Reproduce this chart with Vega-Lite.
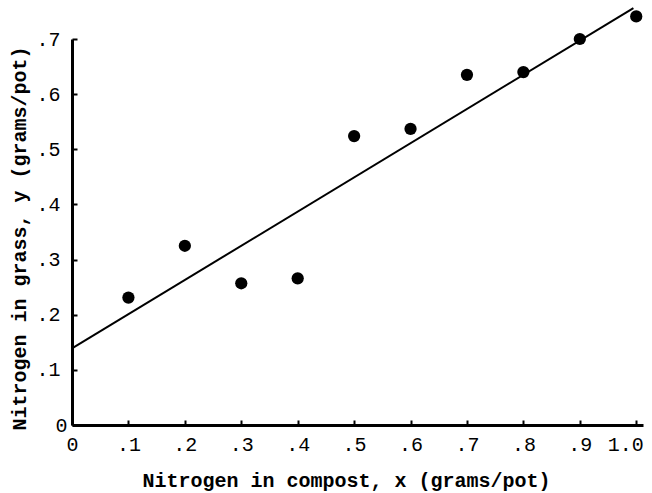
{
  "$schema": "https://vega.github.io/schema/vega-lite/v6.json",
  "width": 571,
  "height": 386,
  "autosize": {"type": "none"},
  "padding": {"left": 72, "top": 39, "right": 9, "bottom": 68},
  "background": "white",
  "config": {
    "view": {"stroke": null},
    "font": "Liberation Mono",
    "axis": {
      "grid": false,
      "domainColor": "black",
      "domainWidth": 3,
      "tickColor": "black",
      "tickWidth": 2,
      "tickSize": -5,
      "labelColor": "black",
      "labelFont": "Liberation Mono",
      "labelFontSize": 20,
      "labelFlush": false,
      "labelOverlap": false,
      "titleColor": "black",
      "titleFont": "Liberation Mono",
      "titleFontSize": 20,
      "titleFontWeight": "bold"
    }
  },
  "datasets": {
    "samples": [
      {"compost": 0.1, "grass": 0.231},
      {"compost": 0.2, "grass": 0.325},
      {"compost": 0.3, "grass": 0.257},
      {"compost": 0.4, "grass": 0.266},
      {"compost": 0.5, "grass": 0.524},
      {"compost": 0.6, "grass": 0.537},
      {"compost": 0.7, "grass": 0.635},
      {"compost": 0.8, "grass": 0.640},
      {"compost": 0.9, "grass": 0.700},
      {"compost": 1.0, "grass": 0.741}
    ],
    "fit": [
      {"compost": 0.0, "grass": 0.139},
      {"compost": 0.995, "grass": 0.756}
    ]
  },
  "encoding": {
    "x": {
      "field": "compost",
      "type": "quantitative",
      "scale": {"domain": [0, 1.012], "nice": false, "zero": true},
      "axis": {
        "title": "Nitrogen in compost, x (grams/pot)",
        "values": [0, 0.1, 0.2, 0.3, 0.4, 0.5, 0.6, 0.7, 0.8, 0.9, 1.0],
        "labelExpr": "datum.value == 0 ? '0' : datum.value >= 1 ? '1.0' : '.' + format(datum.value * 10, '.0f')",
        "labelOffset": {"condition": {"test": "datum.value >= 1", "value": -11}, "value": 0},
        "labelPadding": 14,
        "titlePadding": 16,
        "titleX": 274
      }
    },
    "y": {
      "field": "grass",
      "type": "quantitative",
      "scale": {"domain": [0, 0.7], "nice": false},
      "axis": {
        "title": "Nitrogen in grass, y (grams/pot)",
        "values": [0, 0.1, 0.2, 0.3, 0.4, 0.5, 0.6, 0.7],
        "labelExpr": "datum.value == 0 ? '0' : '.' + format(datum.value * 10, '.0f')",
        "labelPadding": {"condition": {"test": "datum.value == 0", "value": 10}, "value": 17},
        "titlePadding": 6,
        "titleY": 199
      }
    }
  },
  "layer": [
    {
      "data": {"name": "fit"},
      "mark": {"type": "line", "color": "black", "strokeWidth": 2, "clip": false}
    },
    {
      "data": {"name": "samples"},
      "mark": {"type": "circle", "size": 150, "color": "black", "opacity": 1, "clip": false}
    }
  ]
}
